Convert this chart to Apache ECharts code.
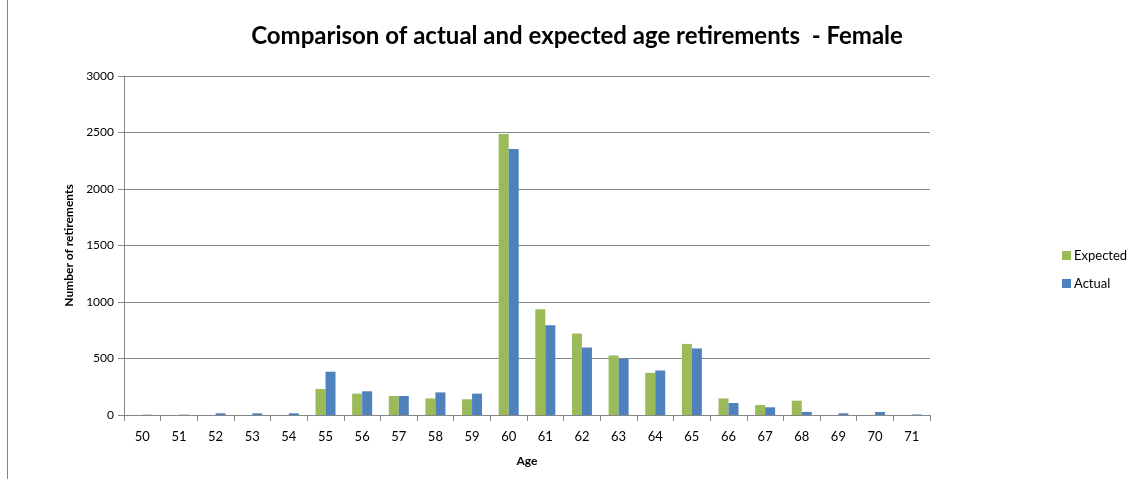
<!DOCTYPE html>
<html><head><meta charset="utf-8">
<script src="https://cdn.jsdelivr.net/npm/echarts@6/dist/echarts.min.js"></script>
<style>html,body{margin:0;padding:0;background:#fff}#c{width:1137px;height:479px}</style>
</head><body><div id="c"></div>
<script>
const ages = ['50','51','52','53','54','55','56','57','58','59','60','61','62','63','64','65','66','67','68','69','70','71'];
const expected = [0,0,0,0,0,230,189,168,147,139,2486,935,721,527,373,629,147,88,127,0,0,0];
const actual = [3,3,15,15,15,383,210,168,200,189,2354,794,597,497,394,589,106,68,27,15,27,5];
const yTicks = [0,500,1000,1500,2000,2500,3000];

const font = 'Lato, "Open Sans", sans-serif';
const chart = echarts.init(document.getElementById('c'));
chart.setOption({
  animation:false,
  backgroundColor:'#fff',
  textStyle:{fontFamily:font},
  title:{text:'Comparison of actual and expected age retirements  - Female', left:572, top:19, textAlign:'center',
    textStyle:{fontFamily:font,fontSize:24,fontWeight:'bold',color:'#000'}},
  grid:{left:124,right:207,top:76,bottom:64},
  legend:{orient:'vertical',left:1057,top:244,itemWidth:9,itemHeight:9,itemGap:15,
    icon:'rect',textStyle:{fontFamily:font,fontSize:13,color:'#000',padding:[0,0,0,-2]},
    data:['Expected','Actual']},
  xAxis:{type:'category',data:ages,name:'Age',nameLocation:'middle',nameGap:40,
    nameTextStyle:{fontFamily:font,fontSize:12,fontWeight:'bold',color:'#000'},
    axisLine:{lineStyle:{color:'#868686'}},
    axisTick:{show:true,length:6,lineStyle:{color:'#868686'}},
    axisLabel:{fontFamily:font,fontSize:13,color:'#000',margin:15}},
  yAxis:{type:'value',min:0,max:3000,interval:500,name:'Number of retirements',nameLocation:'middle',nameGap:47,
    nameTextStyle:{fontFamily:font,fontSize:12,fontWeight:'bold',color:'#000'},
    axisLine:{show:true,lineStyle:{color:'#868686'}},
    axisTick:{show:true,inside:false,length:6,lineStyle:{color:'#868686'}},
    splitLine:{lineStyle:{color:'#868686'}},
    axisLabel:{fontFamily:font,fontSize:12,color:'#000',margin:10,
      formatter:v=>yTicks.includes(v)?String(v):''}},
  series:[
    {name:'Expected',type:'bar',data:expected,barWidth:10,barGap:'0%',
      itemStyle:{color:'#9BBB59'}},
    {name:'Actual',type:'bar',data:actual,barWidth:10,barGap:'0%',
      itemStyle:{color:'#4F81BD'}}
  ],
  graphic:[{type:'line',shape:{x1:7.5,y1:0,x2:7.5,y2:479},style:{stroke:'#868686',lineWidth:1}}]
});
</script></body></html>
